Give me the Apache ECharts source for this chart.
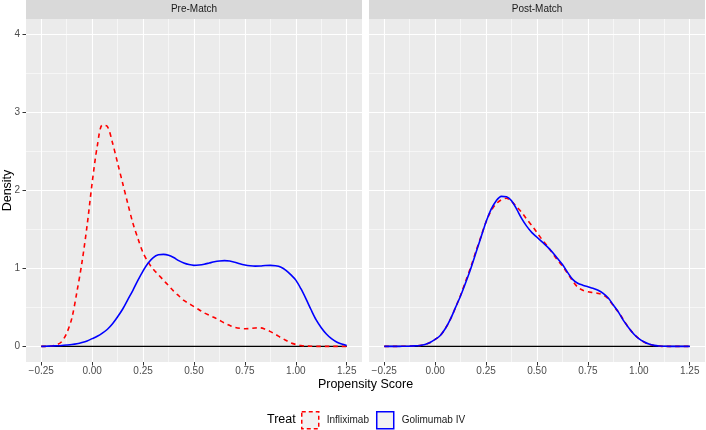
<!DOCTYPE html>
<html>
<head>
<meta charset="utf-8">
<script src="https://cdn.jsdelivr.net/npm/echarts@6/dist/echarts.min.js"></script>
<style>html,body{margin:0;padding:0;background:#fff}#c{width:706px;height:430px}</style>
</head>
<body>
<div id="c"></div>
<script>
// ---------------- data ----------------
const panels = ['Pre-Match', 'Post-Match'];
const seriesNames = ['Infliximab', 'Golimumab IV'];
const xGrid = [-0.25,-0.225,-0.2,-0.175,-0.15,-0.125,-0.1,-0.075,-0.05,-0.025,
  0,0.025,0.05,0.075,0.1,0.125,0.15,0.175,0.2,0.225,
  0.25,0.275,0.3,0.325,0.35,0.375,0.4,0.425,0.45,0.475,
  0.5,0.525,0.55,0.575,0.6,0.625,0.65,0.675,0.7,0.725,
  0.75,0.775,0.8,0.825,0.85,0.875,0.9,0.925,0.95,0.975,
  1.0,1.025,1.05,1.075,1.1,1.125,1.15,1.175,1.2,1.225,1.25];
const preInfliximab = [0,0,0.005,0.02,0.06,0.17,0.36,0.70,1.08,1.55,
  2.10,2.57,2.84,2.82,2.61,2.35,2.09,1.83,1.58,1.38,
  1.20,1.08,0.99,0.92,0.85,0.78,0.71,0.65,0.59,0.55,
  0.51,0.47,0.43,0.40,0.37,0.335,0.30,0.27,0.245,0.232,
  0.227,0.23,0.237,0.238,0.22,0.19,0.155,0.115,0.08,0.045,
  0.025,0.012,0.005,0.002,0,0,0,0,0,0,0];
const preGolimumab = [0,0.002,0.005,0.008,0.012,0.018,0.025,0.035,0.05,0.07,
  0.10,0.13,0.17,0.22,0.29,0.38,0.48,0.60,0.72,0.85,
  0.97,1.07,1.14,1.175,1.18,1.17,1.14,1.10,1.07,1.05,
  1.04,1.045,1.055,1.07,1.085,1.095,1.10,1.095,1.08,1.06,
  1.045,1.035,1.03,1.032,1.038,1.04,1.035,1.02,0.98,0.92,
  0.85,0.74,0.61,0.47,0.34,0.24,0.16,0.10,0.057,0.03,0.012];
const postInfliximab = [0,0,0,0.001,0.002,0.004,0.007,0.012,0.025,0.05,
  0.09,0.14,0.23,0.35,0.50,0.66,0.84,1.02,1.22,1.41,
  1.60,1.74,1.83,1.88,1.90,1.86,1.79,1.72,1.63,1.55,
  1.46,1.37,1.29,1.20,1.11,1.03,0.94,0.84,0.76,0.72,
  0.70,0.69,0.68,0.66,0.61,0.52,0.44,0.34,0.24,0.16,
  0.10,0.055,0.028,0.012,0.005,0,0,0,0,0,0];
const postGolimumab = [0,0,0,0.001,0.002,0.004,0.007,0.012,0.025,0.05,
  0.09,0.14,0.23,0.35,0.50,0.65,0.82,1.00,1.20,1.40,
  1.60,1.76,1.87,1.925,1.92,1.87,1.76,1.64,1.54,1.46,
  1.40,1.34,1.28,1.21,1.13,1.05,0.95,0.86,0.81,0.785,
  0.765,0.745,0.72,0.68,0.62,0.53,0.44,0.33,0.24,0.16,
  0.10,0.06,0.03,0.013,0.005,0.002,0,0,0,0,0];
const baseX = [-0.25, 1.25];
const baseY = [0, 0];
const xTicks = [-0.25, 0, 0.25, 0.5, 0.75, 1.0, 1.25];
const xTickLabels = ['\u22120.25', '0.00', '0.25', '0.50', '0.75', '1.00', '1.25'];
const xMinor = [-0.125, 0.125, 0.375, 0.625, 0.875, 1.125];
const yTicks = [0, 1, 2, 3, 4];
const yTickLabels = ['0', '1', '2', '3', '4'];
const yMinor = [0.5, 1.5, 2.5, 3.5];
const X_MIN = -0.325, X_MAX = 1.325, Y_MIN = -0.2, Y_MAX = 4.2;

// ---------------- chart ----------------
const FONT = '"Liberation Sans", Arial, Helvetica, sans-serif';
const pairs = (xs, ys) => xs.map((x, i) => [x, ys[i]]);
const panelLeft = [26, 369], panelW = 336, panelTop = 19, panelBottom = 68;

const grids = [], xAxes = [], yAxes = [], series = [];
panels.forEach((p, gi) => {
  grids.push({left: panelLeft[gi], width: panelW, top: panelTop, bottom: panelBottom,
    show: true, backgroundColor: '#EBEBEB', borderWidth: 0, containLabel: false});
  xAxes.push({type: 'value', gridIndex: gi, min: X_MIN, max: X_MAX, position: 'bottom',
    axisLine: {show: false, onZero: false},
    axisTick: {show: true, length: 3.5, lineStyle: {color: '#333333', width: 1}, customValues: xTicks},
    axisLabel: {show: true, customValues: xTicks, color: '#4d4d4d', fontSize: 10, fontFamily: FONT, margin: 4.5,
      formatter: v => xTickLabels[xTicks.findIndex(t => Math.abs(t - v) < 1e-6)]},
    splitLine: {show: true, lineStyle: {color: '#ffffff', width: 1.1}}
  });
  xAxes.push({type: 'value', gridIndex: gi, min: X_MIN, max: X_MAX, position: 'bottom',
    axisLine: {show: false, onZero: false}, axisTick: {show: false, customValues: xMinor},
    axisLabel: {show: false, customValues: xMinor},
    splitLine: {show: true, lineStyle: {color: '#ffffff', width: 0.55}}
  });
  yAxes.push({type: 'value', gridIndex: gi, min: Y_MIN, max: Y_MAX, position: 'left',
    axisLine: {show: false, onZero: false},
    axisTick: {show: gi === 0, length: 3.5, lineStyle: {color: '#333333', width: 1}, customValues: yTicks},
    axisLabel: {show: gi === 0, customValues: yTicks, color: '#4d4d4d', fontSize: 10, fontFamily: FONT, margin: 6,
      formatter: v => yTickLabels[yTicks.findIndex(t => Math.abs(t - v) < 1e-6)]},
    splitLine: {show: true, lineStyle: {color: '#ffffff', width: 1.1}}
  });
  yAxes.push({type: 'value', gridIndex: gi, min: Y_MIN, max: Y_MAX, position: 'left',
    axisLine: {show: false, onZero: false}, axisTick: {show: false, customValues: yMinor},
    axisLabel: {show: false, customValues: yMinor},
    splitLine: {show: true, lineStyle: {color: '#ffffff', width: 0.55}}
  });
  const xi = gi * 2, yi = gi * 2;
  const inf = gi === 0 ? preInfliximab : postInfliximab;
  const gol = gi === 0 ? preGolimumab : postGolimumab;
  series.push({type: 'line', name: 'baseline', xAxisIndex: xi, yAxisIndex: yi, data: pairs(baseX, baseY),
    symbol: 'none', lineStyle: {color: '#000000', width: 1.3}, z: 2, silent: true});
  series.push({type: 'line', name: seriesNames[0], xAxisIndex: xi, yAxisIndex: yi, data: pairs(xGrid, inf),
    symbol: 'none', smooth: 0.3, color: '#ff0000', lineStyle: {color: '#ff0000', width: 1.6, type: [4.5, 4]}, z: 3});
  series.push({type: 'line', name: seriesNames[1], xAxisIndex: xi, yAxisIndex: yi, data: pairs(xGrid, gol),
    symbol: 'none', smooth: 0.3, color: '#0000ff', lineStyle: {color: '#0000ff', width: 1.6}, z: 4});
});

const graphic = [];
panels.forEach((p, gi) => {
  graphic.push({type: 'rect', left: panelLeft[gi], top: 0, shape: {width: panelW, height: panelTop},
    style: {fill: '#D9D9D9'}, silent: true});
  graphic.push({type: 'text', x: panelLeft[gi] + panelW / 2, y: panelTop / 2,
    style: {text: p, fill: '#1a1a1a', font: '10px ' + FONT, textAlign: 'center', textVerticalAlign: 'middle'}});
});
graphic.push({type: 'text', x: (panelLeft[0] + panelLeft[1] + panelW) / 2, y: 385,
  style: {text: 'Propensity Score', fill: '#000000', font: '12.5px ' + FONT, textAlign: 'center', textVerticalAlign: 'middle'}});
graphic.push({type: 'text', x: 8, y: 190.5, rotation: Math.PI / 2,
  style: {text: 'Density', fill: '#000000', font: '12.5px ' + FONT, textAlign: 'center', textVerticalAlign: 'middle'}});
graphic.push({type: 'text', x: 267, y: 420,
  style: {text: 'Treat', fill: '#000000', font: '12.5px ' + FONT, textAlign: 'left', textVerticalAlign: 'middle'}});

const chart = echarts.init(document.getElementById('c'), null, {renderer: 'canvas'});
chart.setOption({
  animation: false,
  backgroundColor: '#ffffff',
  grid: grids, xAxis: xAxes, yAxis: yAxes, series: series, graphic: graphic,
  legend: {left: 301, top: 411, padding: 0, itemWidth: 17, itemHeight: 17, itemGap: 7, icon: 'rect',
    selectedMode: false,
    textStyle: {fontSize: 10, color: '#1a1a1a', fontFamily: FONT, padding: [0, 0, 0, 3]},
    data: [
      {name: seriesNames[0], icon: 'rect', itemStyle: {color: '#F2F2F2', borderColor: '#ff0000', borderWidth: 1.5, borderType: [4, 3]}},
      {name: seriesNames[1], icon: 'rect', itemStyle: {color: '#F2F2F2', borderColor: '#0000ff', borderWidth: 1.5, borderType: 'solid'}}
    ]}
});
</script>
</body>
</html>
